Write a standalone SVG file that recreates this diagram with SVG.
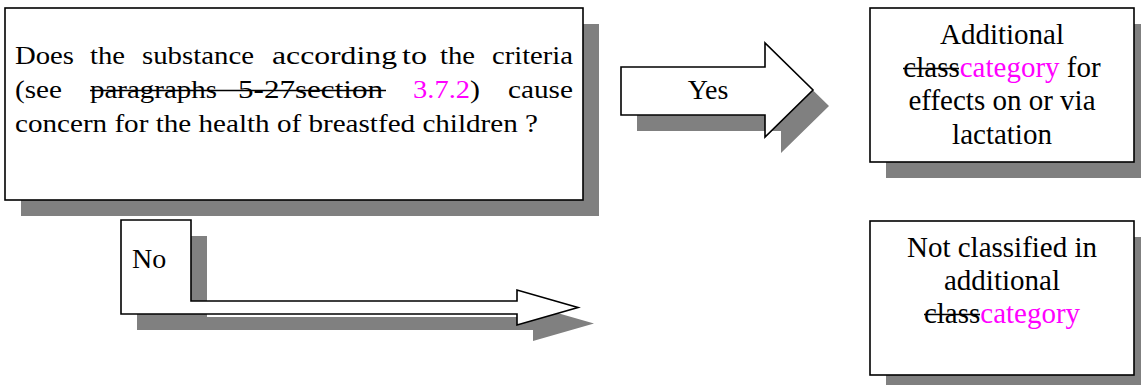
<svg xmlns="http://www.w3.org/2000/svg" width="1141" height="385" viewBox="0 0 1141 385">
<style>
.shadow{fill:#808080;stroke:none}
.box{fill:#fff;stroke:#000;stroke-width:1.6}
.f{font-family:'Liberation Serif','Tinos','Times New Roman','Times','Nimbus Roman','Nimbus Roman No9 L','FreeSerif','Noto Serif','DejaVu Serif',serif;fill:#000}
.m{font-size:26px}
.r{font-size:29px;text-anchor:middle}
.mag{fill:#ff00ff}
.strike{stroke:#000;stroke-width:1.4}
</style>
<rect width="1141" height="385" fill="#fff"/>
<g id="question">
  <rect class="shadow" x="21" y="24" width="578" height="192"/>
  <rect class="box" x="5" y="8" width="578" height="192"/>
  <g class="f m">
    <text x="15" y="64" textLength="59" lengthAdjust="spacingAndGlyphs">Does</text>
    <text x="90" y="64" textLength="35" lengthAdjust="spacingAndGlyphs">the</text>
    <text x="142" y="64" textLength="112" lengthAdjust="spacingAndGlyphs">substance</text>
    <text x="272" y="64" textLength="125" lengthAdjust="spacingAndGlyphs">according</text>
    <text x="402" y="64" textLength="25" lengthAdjust="spacingAndGlyphs">to</text>
    <text x="440" y="64" textLength="35" lengthAdjust="spacingAndGlyphs">the</text>
    <text x="492" y="64" textLength="81" lengthAdjust="spacingAndGlyphs">criteria</text>
    <text x="15" y="98" textLength="47" lengthAdjust="spacingAndGlyphs">(see</text>
    <text x="90" y="98" textLength="127" lengthAdjust="spacingAndGlyphs">paragraphs</text>
    <text x="238" y="98" textLength="145" lengthAdjust="spacingAndGlyphs">5-27section</text>
    <text class="mag" x="413" y="98" textLength="57" lengthAdjust="spacingAndGlyphs">3.7.2</text>
    <text x="470" y="98" textLength="10" lengthAdjust="spacingAndGlyphs">)</text>
    <text x="508" y="98" textLength="65" lengthAdjust="spacingAndGlyphs">cause</text>
    <text x="15" y="132" textLength="523" lengthAdjust="spacingAndGlyphs">concern for the health of breastfed children ?</text>
  </g>
  <line class="strike" x1="90" y1="90.5" x2="386" y2="90.5"/>
</g>
<g id="connectors" class="f">
  <g id="yes-arrow">
    <polygon class="shadow" points="637,83 781,83 781,59 829,106 781,153 781,131 637,131"/>
    <polygon class="box" points="621,67 765,67 765,43 813,90 765,137 765,115 621,115"/>
    <text x="708" y="99" font-size="28" text-anchor="middle">Yes</text>
  </g>
  <g id="no-arrow">
    <polygon class="shadow" points="137,236 207,236 207,317 533,317 533,306 594,323.5 533,341 533,330 137,330"/>
    <polygon class="box" points="121,220 191,220 191,301 517,301 517,290 578,307.5 517,325 517,314 121,314"/>
    <text x="132" y="268" font-size="28">No</text>
  </g>
</g>
<g id="additional-category" class="f">
  <rect class="shadow" x="886" y="24" width="264" height="154"/>
  <rect class="box" x="870" y="8" width="264" height="154"/>
  <text class="r" x="1002" y="44">Additional</text>
  <text class="r" x="1002" y="77"><tspan>class</tspan><tspan class="mag">category</tspan> for</text>
  <line class="strike" x1="903" y1="68.5" x2="959" y2="68.5"/>
  <text class="r" x="1002" y="110">effects on or via</text>
  <text class="r" x="1002" y="144">lactation</text>
</g>
<g id="not-classified" class="f">
  <rect class="shadow" x="886" y="237" width="264" height="154"/>
  <rect class="box" x="870" y="221" width="264" height="154"/>
  <text class="r" x="1002" y="257">Not classified in</text>
  <text class="r" x="1002" y="290">additional</text>
  <text class="r" x="1002" y="323"><tspan>class</tspan><tspan class="mag">category</tspan></text>
  <line class="strike" x1="924" y1="314.5" x2="980" y2="314.5"/>
</g>
</svg>
